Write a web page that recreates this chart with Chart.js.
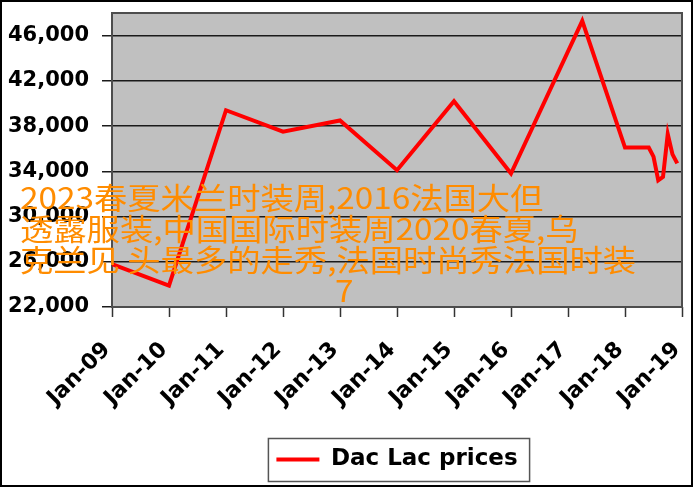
<!DOCTYPE html>
<html>
<head>
<meta charset="utf-8">
<script src="https://cdn.jsdelivr.net/npm/chart.js@4.4.1/dist/chart.umd.min.js"></script>
<style>
    body { margin: 0; background: #fff; }
    #wrap { position: relative; width: 694px; height: 489px; }
    #priceChart { position: absolute; left: 0; top: 0; }
    .overlay {
        position: absolute;
        font-family: "Noto Sans CJK SC", sans-serif;
        font-size: 30px;
        line-height: 31px;
        color: #ff8c00;
        white-space: nowrap;
        transform: scaleX(1.11);
        transform-origin: left top;
    }
</style>
</head>
<body>
<div id="wrap">
    <canvas id="priceChart" width="694" height="489"></canvas>
    <div class="overlay" id="caption" style="left:20px;top:181px">2023春夏米兰时装周,2016法国大但<br>透露服装,中国国际时装周2020春夏,乌<br>克兰见 头最多的走秀,法国时尚秀法国时装</div>
    <div class="overlay" id="captionEnd" style="left:335px;top:274px">7</div>
</div>
<script>
// Dac Lac coffee prices (VND/kg)
const priceDates = ['2009-01', '2010-01', '2011-01', '2012-01', '2013-01', '2014-01', '2015-01', '2016-01',
    '2017-04', '2018-01', '2018-06', '2018-07', '2018-08', '2018-09', '2018-10', '2018-11', '2018-12'];
const prices = [25800, 23900, 39400, 37500, 38500, 34100, 40200, 33800,
    47300, 36100, 36100, 35300, 33200, 33500, 37300, 35500, 34700];
const xTickLabels = ['Jan-09', 'Jan-10', 'Jan-11', 'Jan-12', 'Jan-13', 'Jan-14', 'Jan-15', 'Jan-16', 'Jan-17', 'Jan-18', 'Jan-19'];
const yTicks = [22000, 26000, 30000, 34000, 38000, 42000, 46000];
const seriesName = 'Dac Lac prices';

// months since Jan-09
const toMonth = d => {
    const [y, m] = d.split('-').map(Number);
    return (y - 2009) * 12 + (m - 1);
};
const points = priceDates.map((d, i) => ({ x: toMonth(d), y: prices[i] }));

const FONT = 'DejaVu Sans';

// drop the auto label padding so the plot box lands where layout.padding says
const noPad = scale => {
    scale.paddingLeft = 0;
    scale.paddingRight = 0;
    scale.paddingTop = 0;
    scale.paddingBottom = 0;
};

const framePlugin = {
    id: 'frame',
    beforeDraw(chart) {
        const { ctx, chartArea: a } = chart;
        ctx.save();
        ctx.fillStyle = '#fff';
        ctx.fillRect(0, 0, chart.width, chart.height);
        ctx.fillStyle = '#c0c0c0';
        ctx.fillRect(a.left, a.top, a.right - a.left, a.bottom - a.top);
        ctx.restore();
    },
    beforeDatasetsDraw(chart) {
        const { ctx, chartArea: a } = chart;
        ctx.save();
        ctx.strokeStyle = '#4d4d4d';
        ctx.lineWidth = 2;
        ctx.strokeRect(a.left, a.top, a.right - a.left, a.bottom - a.top);
        ctx.restore();
    },
    afterDraw(chart) {
        const ctx = chart.ctx;
        ctx.save();
        // legend box
        const hb = chart.legend.legendHitBoxes[0];
        if (hb) {
            const cy = hb.top + hb.height / 2;
            ctx.strokeStyle = '#555';
            ctx.lineWidth = 1.5;
            ctx.strokeRect(hb.left - 8, cy - 21, hb.width + 20, 43);
        }
        // outer border
        ctx.strokeStyle = '#000';
        ctx.lineWidth = 2;
        ctx.strokeRect(1, 1, 691, 485);
        ctx.restore();
    }
};

new Chart(document.getElementById('priceChart'), {
    type: 'line',
    data: {
        datasets: [{
            label: seriesName,
            data: points,
            borderColor: '#ff0000',
            backgroundColor: '#ff0000',
            borderWidth: 4,
            pointRadius: 0,
            tension: 0
        }]
    },
    options: {
        responsive: false,
        animation: false,
        devicePixelRatio: 1,
        layout: { padding: { left: 0, top: 13, right: 12, bottom: 8 } },
        plugins: {
            tooltip: { enabled: false },
            legend: {
                position: 'bottom',
                fullSize: false,
                labels: {
                    boxWidth: 43,
                    boxHeight: 4,
                    color: '#000',
                    font: { family: FONT, size: 23, weight: 'bold' },
                    generateLabels(chart) {
                        return Chart.defaults.plugins.legend.labels.generateLabels(chart)
                            .map(item => ({ ...item, lineWidth: 0 }));
                    }
                }
            }
        },
        scales: {
            x: {
                type: 'linear',
                min: 0,
                max: 120,
                afterBuildTicks: scale => { scale.ticks = xTickLabels.map((_, i) => ({ value: i * 12 })); },
                afterFit: scale => { scale.height = 131; noPad(scale); },
                ticks: {
                    minRotation: 45,
                    maxRotation: 45,
                    padding: 20,
                    labelOffset: -5,
                    color: '#000',
                    font: { family: FONT, size: 22, weight: 'bold' },
                    callback: (v) => xTickLabels[Math.round(v / 12)]
                },
                grid: { drawOnChartArea: false, tickLength: 10, tickColor: '#333', tickWidth: 1.5 },
                border: { display: false }
            },
            y: {
                min: 22000,
                max: 48000,
                afterBuildTicks: scale => { scale.ticks = yTicks.map(v => ({ value: v })); },
                afterFit: scale => { scale.width = 112; noPad(scale); },
                ticks: {
                    padding: 13,
                    color: '#000',
                    font: { family: FONT, size: 21, weight: 'bold' },
                    callback: v => v.toLocaleString('en-US')
                },
                grid: { color: '#1a1a1a', lineWidth: 1.5, tickLength: 10, tickColor: '#1a1a1a' },
                border: { display: false }
            }
        }
    },
    plugins: [framePlugin]
});
</script>
</body>
</html>
